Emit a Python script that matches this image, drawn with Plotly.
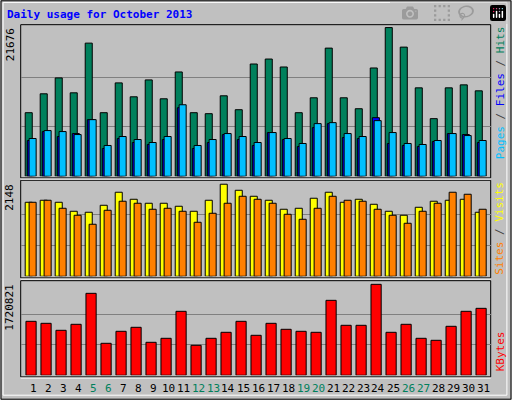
import plotly.graph_objects as go

days = list(range(1, 32))
hits = [9270,12022,14339,12167,19409,9270,13615,11587,14049,11297,15208,9270,9125,11732,9704,16367,17091,15932,9270,11442,18684,11442,9849,15788,21676,18829,12891,8401,12891,13325,12456]
files = [5504,6663,6518,6083,8256,4490,5794,5359,4925,5794,10428,4490,5359,6228,5794,4925,6373,5504,4780,7677,7821,6228,5794,8111,6373,4780,4635,5214,6228,5938,5214]
pages = [5214,6518,5794,6228,8256,4056,5504,4925,4635,5359,9994,4056,4925,6083,5359,4490,6373,5359,4345,7097,7677,5649,5504,8546,4780,4490,4345,5069,6228,6083,4925]
sites = [1727,1774,1727,1517,1494,1657,1961,1797,1704,1704,1634,1517,1774,2148,2007,1867,1774,1564,1587,1821,1961,1727,1797,1680,1517,1424,1610,1751,1774,1797,1494]
visits = [1727,1774,1587,1424,1214,1540,1751,1704,1564,1587,1517,1260,1470,1704,1867,1797,1704,1447,1330,1587,1867,1774,1751,1564,1424,1237,1517,1704,1961,1914,1564]
kbytes = [1021086,983268,850905,964359,1550538,605088,831996,907632,624000,699633,1210176,567270,699633,813087,1021086,756360,983268,869814,831996,813087,1418175,945450,945450,1720821,813087,964359,699633,661815,926541,1210176,1266903]
weekends = [5, 6, 12, 13, 19, 20, 26, 27]
max_hits, max_sites, max_kb = 21676, 2148, 1720821

MONO = "DejaVu Sans Mono"
line = dict(color="black", width=1)
fig = go.Figure()
def bar(y, color, off, w, ax):
    fig.add_trace(go.Bar(x=days, y=y, offset=off, width=w, marker=dict(color=color, line=line),
                         xaxis="x" if ax == 1 else f"x{ax}", yaxis="y" if ax == 1 else f"y{ax}",
                         showlegend=False, hoverinfo="skip"))
bar(hits, "#00805c", -0.52, 0.47, 1)
bar(pages, "#0000ff", -0.38, 0.47, 1)
bar(files, "#00c0ff", -0.26, 0.47, 1)
bar(sites, "#ffff00", -0.52, 0.47, 2)
bar(visits, "#ff8000", -0.26, 0.47, 2)
bar(kbytes, "#ff0000", -0.47, 0.68, 3)

xd = [20.7/512, 490.7/512]
xr = [0.18, 31.51]
doms = {1: [0.5593, 0.9383], 2: [0.3093, 0.5493], 3: [0.0618, 0.2983]}
ranges = {1: 22100, 2: 2240, 3: 1790000}
maxes = {1: max_hits, 2: max_sites, 3: max_kb}
lay = dict(width=512, height=400, margin=dict(l=0, r=0, t=0, b=0),
           paper_bgcolor="#c0c0c0", plot_bgcolor="#c0c0c0", barmode="overlay",
           font=dict(family=MONO, size=11, color="black"))
shapes = []
for i in (1, 2, 3):
    s = "" if i == 1 else str(i)
    lay["xaxis" + s] = dict(domain=xd, range=xr, anchor="y" + s, showticklabels=False,
                            showgrid=False, zeroline=False, ticks="", fixedrange=True)
    m = maxes[i]
    lay["yaxis" + s] = dict(domain=doms[i], range=[0, ranges[i]], anchor="x" + s,
                            tickvals=[m/3, 2*m/3], showticklabels=False, showgrid=True,
                            gridcolor="#808080", gridwidth=1, zeroline=False, ticks="", fixedrange=True)
    shapes.append(dict(type="rect", xref="paper", yref="paper", x0=xd[0], x1=xd[1],
                       y0=doms[i][0]-0.004, y1=doms[i][1], line=dict(color="black", width=1), layer="below"))
    shapes.append(dict(type="line", xref="paper", yref="paper", x0=xd[0], x1=xd[1],
                       y0=doms[i][0]-0.007, y1=doms[i][0]-0.007, line=dict(color="white", width=1)))
shapes.append(dict(type="rect", xref="paper", yref="paper", x0=0.002, x1=0.998, y0=0.002, y1=0.998,
                   line=dict(color="black", width=1)))
shapes.append(dict(type="rect", xref="paper", yref="paper", x0=0.006, x1=0.99, y0=0.012, y1=0.994,
                   line=dict(color="white", width=1)))
lay["shapes"] = shapes

ann = [dict(text="<b>Daily usage for October 2013</b>", x=5/512, y=1-15/400, xref="paper", yref="paper",
            xanchor="left", yanchor="middle", showarrow=False, font=dict(color="#0000ff", size=11, family=MONO))]
for i, lab in ((1, "21676"), (2, "2148"), (3, "1720821")):
    ann.append(dict(text=lab, x=10/512, y=doms[i][1]-0.005, xref="paper", yref="paper", textangle=-90,
                    xanchor="center", yanchor="top", showarrow=False, font=dict(size=11)))
ann.append(dict(text='<span style="color:#00c0ff">Pages</span> / <span style="color:#0000ff">Files</span> / <span style="color:#00805c">Hits</span>',
                x=500/512, y=doms[1][1], xref="paper", yref="paper", textangle=-90, xanchor="center", yanchor="top",
                showarrow=False, font=dict(size=11, color="#404040")))
ann.append(dict(text='<span style="color:#ff8000">Sites</span> / <span style="color:#ffff00">Visits</span>',
                x=500/512, y=doms[2][1], xref="paper", yref="paper", textangle=-90, xanchor="center", yanchor="top",
                showarrow=False, font=dict(size=11, color="#404040")))
ann.append(dict(text="KBytes", x=500/512, y=doms[3][0]+0.005, xref="paper", yref="paper", textangle=-90,
                xanchor="center", yanchor="bottom", showarrow=False, font=dict(size=11, color="#ff0000")))
for d in days:
    ann.append(dict(text=str(d), x=d, y=1-388/400, xref="x3", yref="paper", showarrow=False,
                    xanchor="center", yanchor="middle",
                    font=dict(size=11, color="#00805c" if d in weekends else "black")))
lay["annotations"] = ann
fig.update_layout(**lay)
fig.write_html("out.html")

with open("out.html", encoding="utf-8") as f:
    html = f.read()
html = html.replace("<head>", "<head><style>html,body{margin:0;padding:0;overflow:hidden;}</style>", 1)
with open("out.html", "w", encoding="utf-8") as f:
    f.write(html)
